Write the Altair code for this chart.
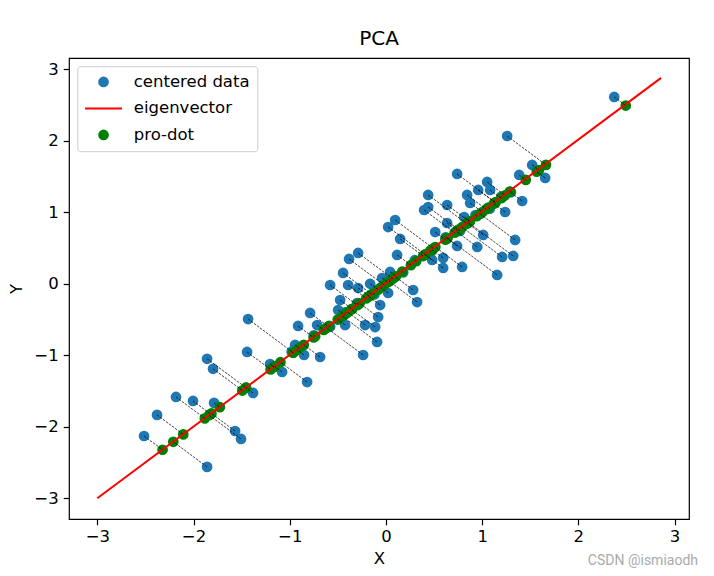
import altair as alt
import pandas as pd
import numpy as np

# centered data points
BLUE_X = [-2.514, -2.379, -2.182, -2.005, -1.786, -1.859, -1.568, -1.506, -1.859, -1.797,
          -1.381, -1.443, -1.433, -1.204, -1.079, -0.913, -0.944, -0.851, -0.819, -0.715,
          -0.684, -0.788, -0.580, -0.393, -0.289, -0.476, -0.445, -0.383, -0.289, -0.497,
          -0.424, -0.216, -0.237, -0.092, -0.060, -0.081, -0.112, 0.023, 0.096, 0.148,
          0.116, 0.044, -0.040, 0.023, 0.283, 0.324, 0.439, 0.636, 0.512, 0.636,
          0.480, 0.595, 0.595, 0.439, 0.397, 0.792, 0.740, 0.813, 0.844, 0.875,
          0.740, 1.052, 0.959, 1.083, 1.239, 1.011, 0.949, 1.343, 1.208, 1.323,
          1.156, 1.385, 1.260, 1.520, 1.655, 1.416, 2.373, -0.164,
          -1.18, -0.98, -0.75, -0.58, -0.42, -0.30, -0.12, 0.03, 0.18, 0.30,
          0.47, 0.62, 0.77, 0.93, 1.08, 1.20, 1.30]
BLUE_Y = [-2.129, -1.834, -1.583, -1.639, -1.666, -2.561, -2.059, -2.170, -1.049, -1.189,
          -1.527, -0.954, -0.493, -1.122, -1.234, -0.590, -0.856, -0.996, -1.374, -0.577,
          -1.024, -0.408, -0.017, -0.017, -0.059, -0.227, 0.151, 0.347, 0.431, -0.367,
          -0.577, -0.577, -0.996, -0.814, -0.297, -0.465, -0.605, 0.794, 0.892, 0.627,
          0.403, 0.165, 0.081, -0.129, -0.087, -0.255, 1.074, 1.102, 0.724, 0.850,
          0.333, 0.361, 0.221, 1.242, 1.032, 0.235, 1.536, 0.934, 1.242, 1.130,
          0.529, 1.424, 1.312, 1.312, 1.004, 0.683, 0.515, 0.613, 0.375, 0.389,
          0.123, 1.522, 2.067, 1.662, 1.480, 1.158, 2.613, 0.0,
          -1.15, -0.95, -0.72, -0.60, -0.40, -0.27, -0.15, 0.06, 0.16, 0.33,
          0.45, 0.65, 0.74, 0.96, 1.05, 1.22, 1.28]

EIGVEC = [0.7071, 0.7071]
LINE_X = [-3.0, 2.86]
LINE_Y = [-3.0, 2.88]

SERIES = ["centered data", "eigenvector", "pro-dot"]
COLORS = ["#1f77b4", "#ff0000", "#008000"]
SHAPES = ["circle", "M-3.45,-0.2H3.45V0.2H-3.45Z", "circle"]

X_TICKS = [-3, -2, -1, 0, 1, 2, 3]
Y_TICKS = [-3, -2, -1, 0, 1, 2, 3]
X_DOMAIN = [-3.294, 3.15]
Y_DOMAIN = [-3.29, 3.158]

bx = np.array(BLUE_X)
by = np.array(BLUE_Y)
t = bx * EIGVEC[0] + by * EIGVEC[1]
gx = t * EIGVEC[0]
gy = t * EIGVEC[1]

pts = pd.concat([
    pd.DataFrame({"x": bx, "y": by, "series": SERIES[0]}),
    pd.DataFrame({"x": gx, "y": gy, "series": SERIES[2]}),
], ignore_index=True)
proj = pd.DataFrame({"x": bx, "y": by, "px": gx, "py": gy})
line = pd.DataFrame({"x": LINE_X, "y": LINE_Y})
mark_df = pd.DataFrame({"text": ["CSDN @ismiaodh"]})

FS = 16.5

xs = alt.Scale(domain=X_DOMAIN, nice=False, zero=False)
ys = alt.Scale(domain=Y_DOMAIN, nice=False, zero=False)
xax = alt.Axis(values=X_TICKS, format="d", title="X", grid=False, domain=False,
               tickSize=5.8, labelPadding=4, titlePadding=5)
yax = alt.Axis(values=Y_TICKS, format="d", title="Y", grid=False, domain=False,
               tickSize=5.8, labelPadding=5, titlePadding=9)

leg = alt.Legend(title=None, orient="none", legendX=8.3, legendY=8.2, padding=7.5,
                 symbolOffset=10.5, labelOffset=22, rowPadding=9.5, labelFontSize=FS,
                 labelFont="DejaVu Sans", labelColor="black", symbolSize=115,
                 strokeColor="#cccccc", fillColor="white", cornerRadius=3,
                 symbolOpacity=1, symbolStrokeWidth=0, labelLimit=300)

points = alt.Chart(pts).mark_point(filled=True, opacity=1, size=115, strokeWidth=0).encode(
    x=alt.X("x:Q", scale=xs, axis=xax),
    y=alt.Y("y:Q", scale=ys, axis=yax),
    color=alt.Color("series:N", scale=alt.Scale(domain=SERIES, range=COLORS), legend=leg),
    shape=alt.Shape("series:N", scale=alt.Scale(domain=SERIES, range=SHAPES), legend=leg),
)

eig = alt.Chart(line).mark_line(color="#ff0000", strokeWidth=2).encode(
    x=alt.X("x:Q", scale=xs),
    y=alt.Y("y:Q", scale=ys),
)

dashes = alt.Chart(proj).mark_rule(color="black", strokeWidth=0.7,
                                   strokeDash=[2.6, 1.1]).encode(
    x=alt.X("x:Q", scale=xs),
    y=alt.Y("y:Q", scale=ys),
    x2="px:Q",
    y2="py:Q",
)

wm = alt.Chart(mark_df).mark_text(align="right", baseline="middle", fontSize=14,
                                  font="Roboto", color="#aaaaaa").encode(
    text="text:N",
    x=alt.value(629),
    y=alt.value(503),
)

chart = alt.layer(points, eig, dashes, wm).properties(
    width=620, height=461,
    title=alt.TitleParams("PCA", anchor="middle", frame="group", font="DejaVu Sans",
                          fontSize=20, fontWeight="normal", color="black",
                          baseline="alphabetic", offset=12, dy=19),
    autosize=alt.AutoSizeParams(type="none"),
    padding={"left": 61, "top": 50, "right": 15, "bottom": 49},
).configure_view(stroke="black", strokeWidth=1.2).configure_axis(
    labelFont="DejaVu Sans", labelFontSize=FS, labelColor="black",
    titleFont="DejaVu Sans", titleFontSize=FS, titleFontWeight="normal", titleColor="black",
    tickColor="black", tickWidth=1.2,
)

chart.save("out.html", embed_options={"renderer": "svg", "actions": False})
